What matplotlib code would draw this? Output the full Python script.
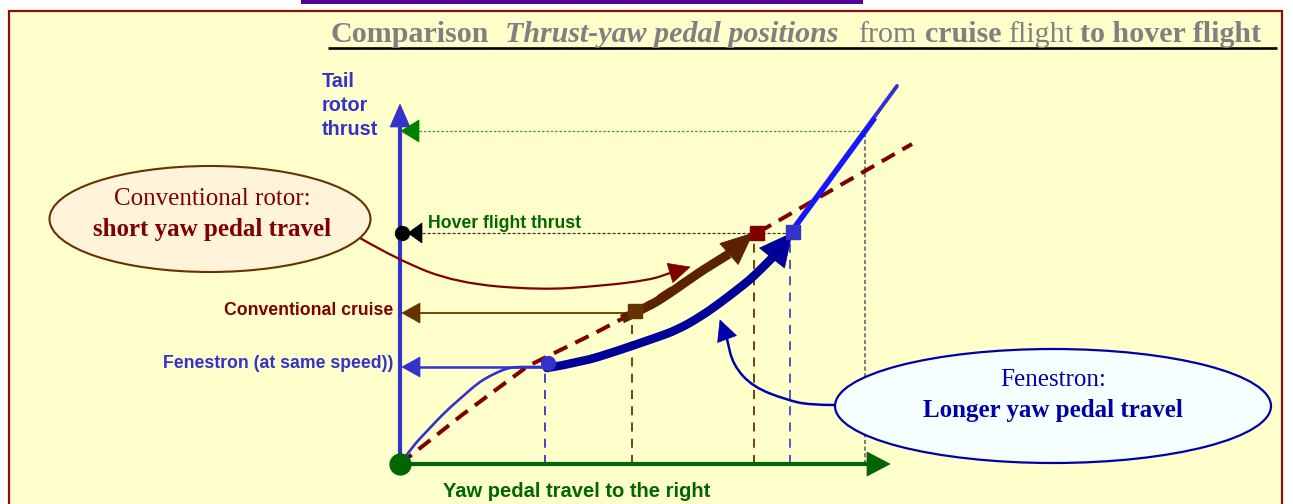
import numpy as np
import matplotlib
matplotlib.use('Agg')
import matplotlib.pyplot as plt
from matplotlib.patches import Ellipse, Rectangle, Polygon, PathPatch
from matplotlib.path import Path

# chart units: x = yaw pedal travel to the right, y = tail rotor thrust (origin at axes crossing)
pedal_fen_cruise = 146
pedal_conv_cruise = 232
pedal_conv_hover = 354
pedal_fen_hover = 390
pedal_max = 465

thrust_fen_cruise = 97
thrust_conv_cruise = 152
thrust_hover = 231
thrust_max = 333
thrust_axis_top = 360
pedal_axis_end = 490

# conventional rotor characteristic (dashed)
conv_pedal = [0, 62, 128, 195, 235, 357, 512]
conv_thrust = [0, 49, 98, 131, 152, 231, 320]

# fenestron characteristic, low part up to the cruise point
fen_low_pedal = [0, 12, 28, 45, 62, 78, 88, 98, 108, 118, 128, 147]
fen_low_thrust = [0, 17, 34, 52, 67, 81, 87, 92, 96, 97, 97, 97]

# fenestron characteristic, above hover
fen_high_pedal = [390, 497]
fen_high_thrust = [232, 378]
fen_high_bold_pedal = [393, 475]
fen_high_bold_thrust = [234, 346]

# pedal travel from cruise to hover (thick arrows), last point = arrow tip
fen_travel_pedal = [147, 182, 217, 255, 277, 300, 320, 342, 353, 372, 392]
fen_travel_thrust = [96, 102, 113, 126, 134, 147, 161, 178, 187, 206, 231]
conv_travel_pedal = [222, 250, 270, 290, 303, 329, 353]
conv_travel_thrust = [145, 158, 171, 185, 194, 210, 231]

# callout connectors, last point = arrow tip
conv_note_pedal = [-40, -2, 57, 140, 200, 250, 270, 290]
conv_note_thrust = [226, 204, 181, 174, 178, 184, 191, 197]
fen_note_pedal = [435, 410, 387, 353, 333, 327, 320]
fen_note_thrust = [59, 59, 64, 77, 99, 125, 144]

BLUE = '#3333CC'
NAVY = '#000099'
DRED = '#800000'
BROWN = '#663300'
GREEN = '#006600'

fig = plt.figure(figsize=(12.93, 5.04), dpi=100)
fig.patch.set_facecolor('white')
ax = fig.add_axes([0, 0, 1, 1])
ax.set_xlim(-400, 893)
ax.set_ylim(-40, 464)
ax.axis('off')


def head(base, tip, hw, color, z=5):
    bx, by = base
    tx, ty = tip
    d = np.hypot(tx - bx, ty - by)
    nx, ny = -(ty - by) / d, (tx - bx) / d
    pts = [(tx, ty), (bx + nx * hw, by + ny * hw), (bx - nx * hw, by - ny * hw)]
    ax.add_patch(Polygon(pts, closed=True, fc=color, ec=color, lw=0.5, zorder=z))


def smooth(xs, ys, color, lw, z=3, cap='round', ls='solid'):
    # rounded polyline: quadratic bezier through the midpoints of the read points
    pts = np.column_stack([xs, ys]).astype(float)
    verts = [pts[0]]
    codes = [Path.MOVETO]
    for i in range(1, len(pts) - 1):
        verts += [pts[i], (pts[i] + pts[i + 1]) / 2]
        codes += [Path.CURVE3, Path.CURVE3]
    verts.append(pts[-1])
    codes.append(Path.LINETO)
    ax.add_patch(PathPatch(Path(verts, codes), fill=False, ec=color, lw=lw, capstyle=cap,
                           joinstyle='round', ls=ls, zorder=z))


# background frame
ax.add_patch(Rectangle((-391, -60), 1273, 513, fc='#FFFFCC', ec='#8B1010', lw=1.6, zorder=0))
ax.add_patch(Rectangle((-99, 460.5), 562, 4, fc='#550099', ec='none', zorder=1))

# title
sans = 'Liberation Sans'
serif = 'Liberation Serif'
title_parts = [('Comparison', 'bold', 'normal'), ('Thrust-yaw pedal positions', 'bold', 'italic'),
               ('from', 'normal', 'normal'), ('cruise', 'bold', 'normal'),
               ('flight', 'normal', 'normal'), ('to hover flight', 'bold', 'normal')]
title_x = [-70, 105, 458, 525, 608, 680]
for (s, w, st), x in zip(title_parts, title_x):
    ax.text(x, 422, s, fontsize=21.6, family=serif, weight=w, style=st, color='#808080',
            ha='left', va='baseline')
ax.plot([-72, 877], [416.5, 416.5], color='black', lw=1.9, solid_capstyle='butt')

# axes of the diagram
ax.plot([0, 0], [0, thrust_axis_top - 23], color=BLUE, lw=3, solid_capstyle='butt', zorder=3)
head((0, thrust_axis_top - 23), (0, thrust_axis_top), 10, BLUE)
ax.plot([0, pedal_axis_end - 23], [0, 0], color=GREEN, lw=3, solid_capstyle='butt', zorder=3)
head((pedal_axis_end - 23, 0), (pedal_axis_end, 0), 12, GREEN)

for i, s in enumerate(['Tail', 'rotor', 'thrust']):
    ax.text(-78, 377 - 24 * i, s, fontsize=14.3, family=sans, weight='bold', color=BLUE,
            ha='left', va='baseline')
ax.text(177, -33, 'Yaw pedal travel to the right', fontsize=14.5, family=sans, weight='bold',
        color=GREEN, ha='center', va='baseline')

# reference levels
ax.plot([19, pedal_max], [thrust_max, thrust_max], color='#33A033', lw=0.9, ls=(0, (2, 1.5)), zorder=2)
head((19, thrust_max), (1, thrust_max), 11, '#008000')
ax.plot([pedal_max, pedal_max], [0, thrust_max], color='#808080', lw=1.5, ls=(0, (2, 1.2)), zorder=2)

ax.plot([22, pedal_fen_hover + 3], [thrust_hover, thrust_hover], color='#333333', lw=0.9,
        ls=(0, (2.5, 1.5)), zorder=2)
head((22, thrust_hover), (8, thrust_hover), 10, 'black')
ax.plot([2], [thrust_hover], 'o', color='black', ms=10, zorder=6)
ax.text(28, 236, 'Hover flight thrust', fontsize=12.7, family=sans, weight='bold', color=GREEN,
        ha='left', va='baseline')

ax.plot([20, pedal_conv_cruise + 3], [thrust_conv_cruise - 1, thrust_conv_cruise - 1], color='#804000',
        lw=1.4, zorder=2)
head((20, thrust_conv_cruise - 1), (2, thrust_conv_cruise - 1), 10, BROWN)
ax.text(-7, 149, 'Conventional cruise', fontsize=12.7, family=sans, weight='bold', color=DRED,
        ha='right', va='baseline')

ax.plot([20, pedal_fen_cruise], [thrust_fen_cruise, thrust_fen_cruise], color=BLUE, lw=1.8, zorder=2)
head((20, thrust_fen_cruise), (2, thrust_fen_cruise), 10, BLUE)
ax.text(-7, 96, 'Fenestron (at same speed))', fontsize=12.7, family=sans, weight='bold', color=BLUE,
        ha='right', va='baseline')

# pedal position drop lines
ax.plot([pedal_fen_cruise - 1, pedal_fen_cruise - 1], [0, thrust_fen_cruise - 4], color=BLUE, lw=1.3,
        ls=(0, (5, 4)), zorder=2)
ax.plot([pedal_conv_cruise, pedal_conv_cruise], [0, thrust_conv_cruise - 6], color=BROWN, lw=1.3,
        ls=(0, (5, 4)), zorder=2)
ax.plot([pedal_conv_hover, pedal_conv_hover], [0, thrust_hover - 6], color=BROWN, lw=1.3,
        ls=(0, (5, 4)), zorder=2)
ax.plot([pedal_fen_hover, pedal_fen_hover], [0, thrust_hover - 6], color='#4444DD', lw=1.3,
        ls=(0, (5, 4)), zorder=2)

# characteristics
ax.plot(conv_pedal, conv_thrust, color=DRED, lw=2.9, dashes=(3.7, 2.2), zorder=3)
smooth(fen_low_pedal, fen_low_thrust, BLUE, 1.9)
ax.plot(fen_high_pedal, fen_high_thrust, color=BLUE, lw=2.8, solid_capstyle='round', zorder=3)
ax.plot(fen_high_bold_pedal, fen_high_bold_thrust, color='#1515FF', lw=3.6, solid_capstyle='butt', zorder=3)

# pedal travel arrows
smooth(fen_travel_pedal[:-1], fen_travel_thrust[:-1], NAVY, 6.2, z=4)
head((fen_travel_pedal[-2], fen_travel_thrust[-2]), (fen_travel_pedal[-1], fen_travel_thrust[-1]), 16, NAVY)
smooth(conv_travel_pedal[:-1], conv_travel_thrust[:-1], '#5C2200', 6.6, z=4, cap='butt')
head((conv_travel_pedal[-2], conv_travel_thrust[-2]), (conv_travel_pedal[-1], conv_travel_thrust[-1]), 14, '#5C2200')

# markers
ax.plot([148], [101], 'o', color=BLUE, ms=10, zorder=6)
ax.plot([235], [153], 's', color=BROWN, ms=10, zorder=6)
ax.plot([357], [231], 's', color=DRED, ms=10, zorder=6)
ax.plot([393], [232], 's', color=BLUE, ms=10, zorder=6)
ax.plot([0], [0], 'o', color=GREEN, ms=15, zorder=6)

# callouts
smooth(conv_note_pedal[:-1], conv_note_thrust[:-1], DRED, 1.6, z=4)
head((conv_note_pedal[-2], conv_note_thrust[-2]), (conv_note_pedal[-1], conv_note_thrust[-1]), 10, DRED)
smooth(fen_note_pedal[:-1], fen_note_thrust[:-1], '#0000AA', 1.8, z=4)
head((fen_note_pedal[-2], fen_note_thrust[-2]), (fen_note_pedal[-1], fen_note_thrust[-1]), 10, '#0000AA')

ax.add_patch(Ellipse((-190, 245), 321, 106, fc='#FFF3DA', ec=BROWN, lw=1.5, zorder=5))
ax.text(-188, 259, 'Conventional rotor:', fontsize=18, family=serif, color=DRED, ha='center',
        va='baseline', zorder=6)
ax.text(-188, 228, 'short yaw pedal travel', fontsize=18, family=serif, weight='bold', color=DRED,
        ha='center', va='baseline', zorder=6)

ax.add_patch(Ellipse((653, 58), 436, 114, fc='#F5FFFF', ec='#0000AA', lw=1.6, zorder=5))
ax.text(653, 78, 'Fenestron:', fontsize=18, family=serif, color='#0000AA', ha='center',
        va='baseline', zorder=6)
ax.text(653, 47, 'Longer yaw pedal travel', fontsize=18, family=serif, weight='bold', color='#0000AA',
        ha='center', va='baseline', zorder=6)

fig.savefig('out.png', dpi=100)
